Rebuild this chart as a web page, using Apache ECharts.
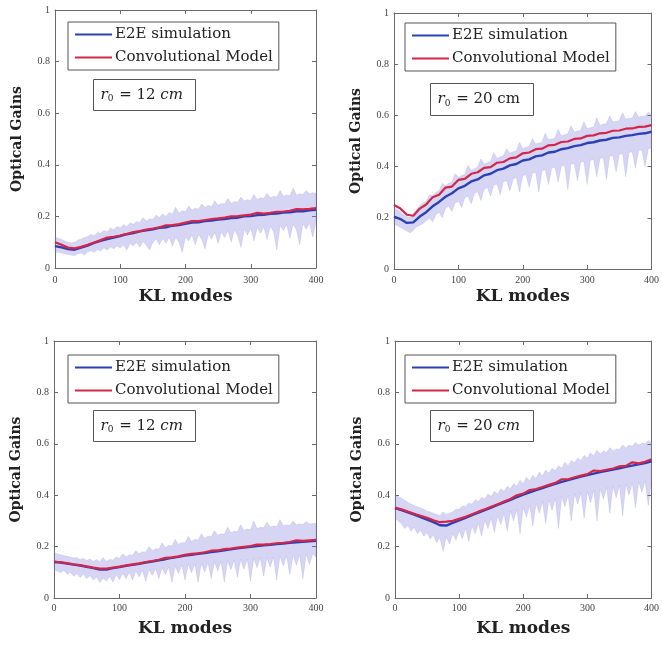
<!DOCTYPE html>
<html>
<head>
<meta charset="utf-8">
<script src="https://cdn.jsdelivr.net/npm/echarts@6/dist/echarts.min.js"></script>
<style>html,body{margin:0;padding:0;background:#fff;}#c{width:662px;height:646px;}</style>
</head>
<body>
<div id="c"></div>
<script>
// ---------------- data ----------------
const bandModes = [0,5,10,15,20,25,30,35,40,45,50,55,60,65,70,75,80,85,90,95,100,105,110,115,120,125,130,135,140,145,150,155,160,165,170,175,180,185,190,195,200,205,210,215,220,225,230,235,240,245,250,255,260,265,270,275,280,285,290,295,300,305,310,315,320,325,330,335,340,345,350,355,360,365,370,375,380,385,390,395,400];
const lineModes = [0,10,20,30,40,50,60,70,80,90,100,110,120,130,140,150,160,170,180,190,200,210,220,230,240,250,260,270,280,290,300,310,320,330,340,350,360,370,380,390,400];

const xTicks = [0,100,200,300,400];
const yTicks = [0,0.2,0.4,0.6,0.8,1];
const seriesNames = ['E2E simulation','Convolutional Model'];
const r0Values = ['12','20','12','20'];

// Panel A: r0 = 12 cm (top left)
const A_low = [.060,.062,.058,.055,.052,.050,.048,.055,.058,.050,.062,.068,.060,.072,.066,.078,.070,.082,.074,.085,.078,.090,.070,.095,.085,.100,.080,.104,.088,.070,.100,.112,.090,.115,.095,.120,.085,.118,.100,.060,.120,.105,.128,.090,.130,.110,.075,.132,.112,.138,.095,.140,.118,.145,.100,.148,.125,.080,.150,.128,.155,.105,.158,.135,.160,.110,.162,.140,.070,.165,.145,.168,.115,.170,.148,.090,.172,.150,.175,.120,.178];
const A_up  = [.120,.115,.110,.105,.100,.098,.100,.108,.112,.118,.122,.130,.125,.138,.135,.145,.140,.155,.148,.160,.155,.168,.160,.175,.170,.180,.175,.195,.182,.190,.188,.205,.195,.210,.200,.215,.208,.235,.212,.222,.218,.240,.225,.232,.228,.248,.235,.242,.238,.260,.242,.250,.248,.270,.250,.258,.255,.275,.260,.265,.262,.285,.265,.272,.270,.290,.272,.278,.275,.300,.278,.283,.280,.310,.283,.287,.285,.300,.288,.292,.290];
const A_blue = [.085,.080,.073,.071,.079,.087,.097,.105,.112,.118,.124,.131,.135,.142,.146,.150,.156,.158,.164,.166,.171,.176,.177,.182,.184,.188,.190,.194,.195,.200,.201,.205,.206,.210,.211,.215,.216,.220,.220,.224,.226];
const A_red  = [.100,.090,.079,.076,.082,.090,.099,.108,.118,.121,.126,.132,.139,.143,.149,.153,.158,.165,.166,.170,.176,.182,.182,.186,.190,.192,.195,.200,.201,.204,.207,.214,.211,.214,.218,.219,.222,.228,.227,.229,.232];

// Panel B: r0 = 20 cm (top right)
const B_low = [.175,.170,.162,.155,.148,.142,.150,.165,.170,.178,.188,.198,.185,.212,.222,.200,.238,.245,.225,.258,.265,.240,.278,.285,.255,.295,.302,.268,.312,.318,.285,.328,.332,.290,.342,.345,.305,.352,.358,.300,.365,.368,.318,.375,.378,.300,.385,.388,.330,.395,.398,.340,.402,.405,.310,.410,.412,.345,.418,.420,.330,.425,.428,.360,.432,.435,.350,.440,.442,.380,.448,.450,.360,.455,.458,.395,.462,.465,.400,.470,.472];
const B_up  = [.240,.232,.222,.212,.205,.200,.212,.232,.248,.258,.265,.290,.285,.300,.305,.335,.325,.335,.340,.372,.358,.365,.370,.405,.385,.392,.398,.430,.410,.415,.420,.455,.432,.438,.442,.470,.452,.458,.462,.495,.470,.475,.480,.510,.488,.492,.496,.530,.505,.508,.512,.545,.520,.524,.528,.560,.535,.538,.542,.575,.548,.552,.555,.590,.562,.565,.568,.598,.574,.577,.580,.610,.585,.588,.590,.615,.594,.596,.598,.612,.600];
const B_blue = [.205,.195,.180,.182,.205,.222,.245,.262,.282,.296,.315,.325,.342,.350,.366,.372,.386,.392,.405,.410,.424,.428,.440,.444,.455,.458,.468,.472,.480,.484,.492,.495,.502,.505,.512,.514,.520,.523,.528,.530,.536];
const B_red  = [.250,.236,.212,.208,.236,.252,.280,.290,.318,.322,.348,.352,.372,.378,.395,.398,.415,.418,.432,.436,.452,.455,.468,.470,.483,.485,.496,.498,.508,.510,.520,.522,.530,.532,.540,.541,.548,.549,.555,.556,.562];

// Panel C: r0 = 12 cm (bottom left)
const C_low = [.110,.105,.098,.108,.092,.100,.085,.095,.080,.092,.075,.088,.070,.082,.060,.078,.065,.085,.062,.090,.072,.095,.075,.100,.070,.105,.082,.108,.065,.112,.088,.115,.075,.118,.090,.122,.060,.125,.095,.128,.070,.130,.098,.132,.060,.135,.100,.138,.075,.140,.105,.142,.062,.145,.110,.148,.080,.150,.112,.152,.065,.155,.118,.157,.085,.158,.120,.160,.070,.162,.125,.164,.090,.166,.128,.168,.075,.170,.130,.172,.160];
const C_up  = [.175,.172,.168,.165,.162,.160,.156,.158,.150,.155,.146,.152,.142,.150,.140,.158,.142,.150,.148,.160,.155,.172,.160,.168,.166,.185,.172,.180,.178,.200,.184,.192,.190,.215,.196,.205,.202,.228,.208,.216,.214,.240,.220,.228,.226,.250,.232,.240,.238,.262,.244,.250,.248,.275,.254,.260,.258,.285,.263,.268,.266,.300,.270,.275,.273,.295,.276,.280,.278,.305,.281,.284,.282,.300,.285,.288,.286,.298,.288,.290,.290];
const C_blue = [.140,.138,.134,.130,.126,.121,.116,.111,.111,.116,.120,.125,.129,.133,.138,.142,.147,.151,.156,.160,.165,.168,.172,.175,.179,.182,.186,.189,.193,.196,.199,.202,.205,.207,.210,.212,.215,.217,.219,.221,.223];
const C_red  = [.142,.139,.136,.131,.128,.123,.118,.114,.114,.118,.122,.127,.131,.135,.140,.144,.149,.156,.158,.162,.168,.172,.174,.178,.184,.185,.190,.192,.196,.199,.202,.208,.208,.210,.213,.215,.218,.224,.222,.224,.226];

// Panel D: r0 = 20 cm (bottom right)
const D_low = [.310,.300,.290,.270,.282,.260,.275,.250,.265,.240,.255,.230,.245,.215,.235,.180,.238,.210,.250,.225,.262,.230,.272,.220,.280,.250,.292,.240,.302,.270,.310,.255,.320,.285,.330,.260,.338,.300,.345,.250,.352,.315,.360,.280,.368,.330,.375,.290,.382,.340,.388,.270,.395,.355,.400,.300,.406,.365,.410,.310,.415,.370,.420,.300,.425,.385,.430,.330,.435,.390,.440,.320,.444,.400,.448,.350,.452,.410,.456,.360,.460];
const D_up  = [.400,.395,.388,.380,.372,.366,.360,.355,.350,.345,.338,.335,.330,.325,.320,.335,.325,.330,.335,.345,.345,.358,.355,.370,.365,.382,.375,.392,.385,.405,.395,.415,.405,.425,.415,.435,.425,.445,.435,.458,.445,.470,.455,.478,.465,.490,.475,.498,.485,.505,.495,.515,.505,.528,.515,.535,.525,.545,.535,.555,.545,.565,.553,.575,.560,.572,.566,.585,.572,.580,.578,.595,.584,.595,.590,.605,.595,.602,.600,.612,.605];
const D_blue = [.350,.342,.333,.324,.315,.305,.295,.283,.282,.292,.302,.312,.322,.332,.342,.352,.362,.372,.382,.392,.402,.411,.420,.428,.436,.444,.452,.459,.466,.472,.478,.484,.490,.495,.500,.505,.510,.515,.520,.525,.532];
const D_red  = [.352,.345,.336,.328,.320,.312,.302,.295,.297,.300,.308,.316,.326,.336,.345,.355,.365,.375,.385,.400,.406,.420,.424,.432,.440,.448,.462,.462,.470,.476,.482,.496,.494,.499,.504,.512,.514,.528,.524,.530,.540];

const panelsData = [
  {low: A_low, up: A_up, blue: A_blue, red: A_red},
  {low: B_low, up: B_up, blue: B_blue, red: B_red},
  {low: C_low, up: C_up, blue: C_blue, red: C_red},
  {low: D_low, up: D_up, blue: D_blue, red: D_red}
];

// ---------------- layout / style ----------------
const layout = [
  {left:55,  top:10,  width:261, height:258, legend:[68,22],   box:[93,79,102,31],   xNameGap:20, xMargin:7, yNameGap:31, cmItalic:true},
  {left:394, top:13,  width:260, height:256, legend:[405,23],  box:[430,83,103,32],  xNameGap:19, xMargin:6, yNameGap:31, cmItalic:false},
  {left:54,  top:341, width:262, height:257, legend:[68,355],  box:[93,410,102,31],  xNameGap:22, xMargin:5, yNameGap:31, cmItalic:true},
  {left:395, top:341, width:259, height:257, legend:[405,355], box:[430,410,103,31], xNameGap:22, xMargin:5, yNameGap:31, cmItalic:true}
];
const BLUE = '#2b40b2';
const RED = '#d4264a';
const BAND = 'rgba(120,120,218,0.30)';
const AXIS = '#6a6a6a';
const SERIF = '"DejaVu Serif", serif';
const LABEL_FONT = '"Liberation Serif", serif';

const pairs = (xs, ys) => xs.map((x, i) => [x, ys[i]]);

const grids = [], xAxes = [], yAxes = [], series = [], legends = [], graphics = [];

layout.forEach((L, i) => {
  grids.push({left: L.left, top: L.top, width: L.width, height: L.height});
  const tick = {show: true, inside: true, length: 4, lineStyle: {color: AXIS, width: 1}};
  const line = {show: true, onZero: false, lineStyle: {color: AXIS, width: 1}};
  xAxes.push({
    gridIndex: i, type: 'value', position: 'bottom', min: xTicks[0], max: xTicks[xTicks.length-1], interval: xTicks[1]-xTicks[0],
    axisLine: line, axisTick: tick, splitLine: {show: false},
    axisLabel: {color: '#444', fontFamily: LABEL_FONT, fontSize: 10, margin: L.xMargin},
    name: 'KL modes', nameLocation: 'middle', nameGap: L.xNameGap,
    nameTextStyle: {fontFamily: SERIF, fontWeight: 'bold', fontSize: 17, color: '#222'}
  });
  xAxes.push({
    gridIndex: i, type: 'value', position: 'top', min: xTicks[0], max: xTicks[xTicks.length-1], interval: xTicks[1]-xTicks[0],
    axisLine: line, axisTick: tick, splitLine: {show: false}, axisLabel: {show: false}
  });
  yAxes.push({
    gridIndex: i, type: 'value', position: 'left', min: yTicks[0], max: yTicks[yTicks.length-1], interval: yTicks[1]-yTicks[0],
    axisLine: line, axisTick: tick, splitLine: {show: false},
    axisLabel: {color: '#444', fontFamily: LABEL_FONT, fontSize: 10, margin: 5},
    name: 'Optical Gains', nameLocation: 'middle', nameGap: L.yNameGap,
    nameTextStyle: {fontFamily: SERIF, fontWeight: 'bold', fontSize: 14, color: '#222'}
  });
  yAxes.push({
    gridIndex: i, type: 'value', position: 'right', min: yTicks[0], max: yTicks[yTicks.length-1], interval: yTicks[1]-yTicks[0],
    axisLine: line, axisTick: tick, splitLine: {show: false}, axisLabel: {show: false}
  });

  const d = panelsData[i];
  const xi = i * 2, yi = i * 2;
  // shaded spread band: polygon through upper values then lower values, mapped by the axes
  series.push({
    name: 'band-' + i, type: 'custom', xAxisIndex: xi, yAxisIndex: yi, silent: true, z: 1,
    data: bandModes.map((x, k) => [x, d.low[k], d.up[k]]),
    encode: {x: 0, y: [1, 2]},
    renderItem: function (params, api) {
      if (params.dataIndex !== 0) return null;
      const pts = [];
      for (let k = 0; k < bandModes.length; k++) pts.push(api.coord([bandModes[k], d.up[k]]));
      for (let k = bandModes.length - 1; k >= 0; k--) pts.push(api.coord([bandModes[k], d.low[k]]));
      return {
        type: 'polygon',
        shape: {points: pts},
        style: {fill: BAND, stroke: 'rgba(130,130,210,0.3)', lineWidth: 0.6}
      };
    }
  });
  series.push({
    name: seriesNames[0], type: 'line', xAxisIndex: xi, yAxisIndex: yi, color: BLUE,
    data: pairs(lineModes, d.blue), symbol: 'none', lineStyle: {width: 2.4, color: BLUE}, z: 3
  });
  series.push({
    name: seriesNames[1], type: 'line', xAxisIndex: xi, yAxisIndex: yi, color: RED,
    data: pairs(lineModes, d.red), symbol: 'none', lineStyle: {width: 2.2, color: RED}, z: 4
  });

  legends.push({
    data: seriesNames, left: L.legend[0], top: L.legend[1], orient: 'vertical',
    icon: 'rect', itemWidth: 37, itemHeight: 2, itemGap: 8,
    padding: [5, 6, 5, 7], borderColor: '#555', borderWidth: 1, backgroundColor: '#fff',
    textStyle: {fontFamily: SERIF, fontSize: 15, color: '#222', padding: [0,0,0,-2]},
    selectedMode: false, z: 10
  });

  const B = L.box;
  graphics.push({
    type: 'group', left: B[0], top: B[1], z: 20,
    children: [
      {type: 'rect', shape: {x: 0, y: 0, width: B[2], height: B[3]}, style: {fill: '#fff', stroke: '#555', lineWidth: 1}},
      {type: 'text', x: 7, y: B[3] / 2,
        style: {
          text: '{i|r}{s|0}{n| = ' + r0Values[i] + ' }' + (L.cmItalic ? '{i|cm}' : '{n|cm}'),
          verticalAlign: 'middle',
          rich: {
            i: {fontFamily: SERIF, fontStyle: 'italic', fontSize: 15, fill: '#222'},
            n: {fontFamily: SERIF, fontSize: 15, fill: '#222'},
            s: {fontFamily: SERIF, fontSize: 9, fill: '#222', padding: [8, 1, 0, 0]}
          }
        }}
    ]
  });
});

const chart = echarts.init(document.getElementById('c'), null, {renderer: 'canvas'});
chart.setOption({
  backgroundColor: '#fff',
  animation: false,
  grid: grids,
  xAxis: xAxes,
  yAxis: yAxes,
  legend: legends,
  series: series,
  graphic: graphics
});
</script>
</body>
</html>
